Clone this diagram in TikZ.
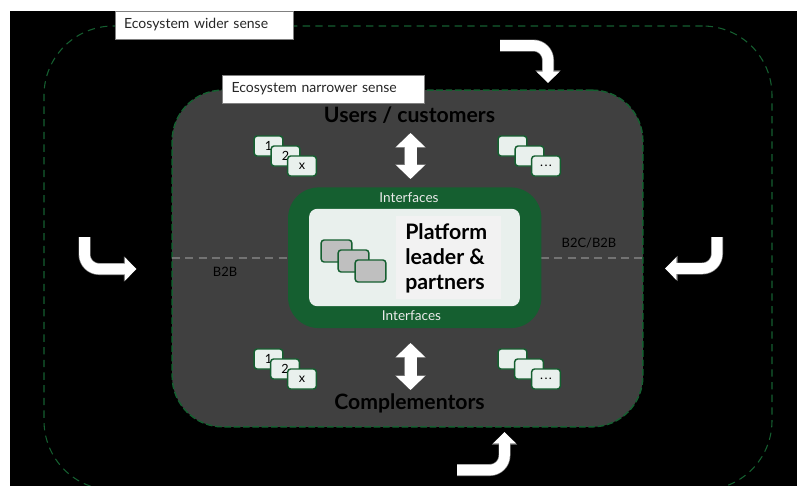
\documentclass[tikz,border=0pt]{standalone}
\usepackage{xcolor}
\usepackage{fontspec}
\setmainfont{Lato}
\usetikzlibrary{arrows.meta}

\definecolor{ecogreen}{HTML}{155F30}
\definecolor{ecogrey}{HTML}{404040}
\definecolor{ecopale}{HTML}{E9F0ED}

\tikzset{
    card/.style={draw=ecogreen, line width=1.1pt, fill=ecopale, rounded corners=2.2pt, minimum width=21.5pt, minimum height=15pt, inner sep=0pt, font=\fontsize{9.5}{10}\selectfont, text=black},
    coreCard/.style={card, fill=black!25, minimum width=23pt, minimum height=16.5pt},
    tagBox/.style={draw=black!50, line width=.5pt, fill=white, anchor=west, inner sep=0pt, minimum height=21pt, font=\fontsize{10.5}{11}\selectfont, text=black!85},
    headLabel/.style={font=\bfseries\fontsize{15.9}{18}\selectfont, text=black},
    faceLabel/.style={font=\fontsize{10.2}{11}\selectfont, text=white!92!black},
    marketLabel/.style={font=\fontsize{9.7}{11}\selectfont, text=black},
    marketLine/.style={black!55, line width=.9pt, dash pattern=on 6pt off 4pt},
    bendArrow/.style={white, line width=8pt, rounded corners=11pt, -{Triangle[length=8.5pt, width=16.5pt]}, preaction={draw=black!50, line width=9pt, -{Triangle[length=9.5pt, width=18.5pt]}}},
    bothArrow/.style={white, line width=9pt, {Triangle[length=10.5pt, width=21pt]}-{Triangle[length=10.5pt, width=21pt]}, preaction={draw=black!45, line width=10pt, {Triangle[length=11pt, width=22.5pt]}-{Triangle[length=11pt, width=22.5pt]}}}
}

\begin{document}
\begin{tikzpicture}[x=.75pt, y=-.75pt]
\useasboundingbox (0,0) rectangle (797,486);
\fill[black] (10,11) rectangle (797,486);

% ecosystem frames
\node[draw=ecogreen, line width=.8pt, dash pattern=on 5.5pt off 4pt, rounded corners=52pt, minimum width=546pt, minimum height=348pt, inner sep=0pt] (wide) at (408,258) {};
\node[draw=ecogreen, line width=1.1pt, dash pattern=on 5pt off 2pt, fill=ecogrey, rounded corners=38pt, minimum width=353pt, minimum height=252.5pt, inner sep=0pt] (narrow) at (407.5,258.5) {};

\node[tagBox, text width=134pt, align=left] (wideTag) at (114.5,25) {\hspace*{7pt}Ecosystem wider sense};
\node[tagBox, text width=151.5pt, align=left] (narrowTag) at (222,89) {\hspace*{7pt}Ecosystem narrower sense};

% B2B lines
\draw[marketLine] (172,258)--(288,258);
\draw[marketLine] (541,258)--(643,258);
\node[marketLabel] (btob) at (225,272) {B2B};
\node[marketLabel] (btoc) at (589,243) {B2C/B2B};

% platform
\node[fill=ecogreen, rounded corners=23pt, minimum width=190pt, minimum height=105.5pt, inner sep=0pt] (iface) at (414.75,257.75) {};
\node[fill=ecopale, rounded corners=6pt, minimum width=158pt, minimum height=73pt, inner sep=0pt] (core) at (414.5,257.5) {};
\node[fill=black!5, minimum width=79pt, minimum height=62pt, inner sep=0pt] (coreText) at (448.5,257.5) {};
\node[font=\bfseries\fontsize{16}{18.8}\selectfont, text=black, align=left, anchor=west, inner sep=0pt] (leader) at (405,258) {Platform\\leader \&\\partners};
\node[faceLabel] (ifaceTop) at (409,198) {Interfaces};
\node[faceLabel] (ifaceBot) at (411.5,316) {Interfaces};

\node[coreCard] (coreA) at (336.5,251) {};
\node[coreCard] (coreB) at (353.5,261) {};
\node[coreCard] (coreC) at (370.5,271) {};

% user cards
\node[card] (userA) at (268.5,146) {1};
\node[card] (userB) at (285.5,156) {2};
\node[card] (userC) at (302,166) {x};
\node[card] (userD) at (512.5,146) {};
\node[card] (userE) at (529.5,156) {};
\node[card] (userF) at (546,166) {.\hspace{1pt}.\hspace{1pt}.};

% complementor cards
\node[card] (compA) at (268.5,359) {1};
\node[card] (compB) at (285,369) {2};
\node[card] (compC) at (302,379) {x};
\node[card] (compD) at (512.5,359) {};
\node[card] (compE) at (529,369) {};
\node[card] (compF) at (546,379) {.\hspace{1pt}.\hspace{1pt}.};

\node[headLabel] (users) at (409.5,115) {Users / customers};
\node[headLabel] (comps) at (409.5,403) {Complementors};

% flows into the narrow frame
\coordinate (topA) at (500,45.5);
\coordinate (topB) at (548,45.5);
\coordinate (topC) at (548,83);
\coordinate (leftA) at (84.5,237);
\coordinate (leftB) at (84.5,269);
\coordinate (leftC) at (136.5,269);
\coordinate (rightA) at (717,237);
\coordinate (rightB) at (717,268.5);
\coordinate (rightC) at (665,268.5);
\coordinate (botA) at (457,470);
\coordinate (botB) at (504.5,470);
\coordinate (botC) at (504.5,432);
\draw[bendArrow] (topA)--(topB)--(topC);
\draw[bendArrow] (leftA)--(leftB)--(leftC);
\draw[bendArrow] (rightA)--(rightB)--(rightC);
\draw[bendArrow] (botA)--(botB)--(botC);

\coordinate (usersUp) at (410.5,133);
\coordinate (usersDown) at (410.5,179);
\coordinate (compsUp) at (410.5,343);
\coordinate (compsDown) at (410.5,390);
\draw[bothArrow] (usersUp)--(usersDown);
\draw[bothArrow] (compsUp)--(compsDown);

\end{tikzpicture}
\end{document}
